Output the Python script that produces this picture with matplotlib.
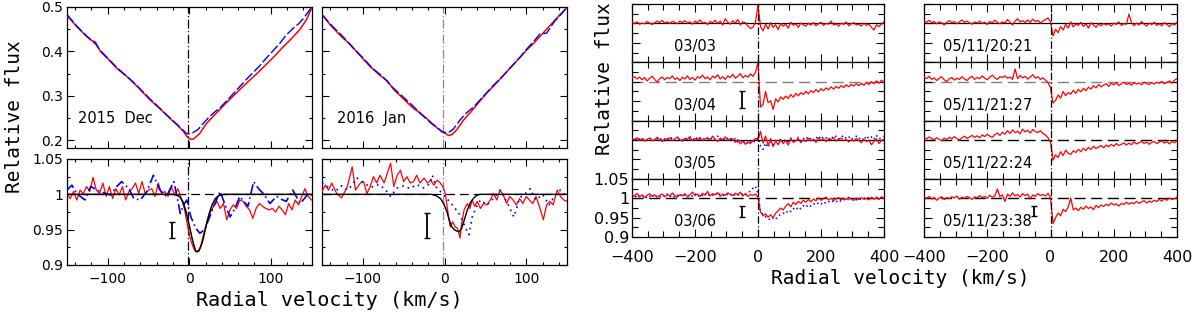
import numpy as np
import matplotlib.pyplot as plt
from matplotlib.ticker import MultipleLocator, FuncFormatter

# ---------------- data ----------------
# Left block, top panels (broad absorption)
dec_top_red_v = [-150, -138, -126, -121, -115, -109, -99, -89, -78, -68, -58, -48, -38, -28, -15, -7, -3, 1, 5, 9, 13, 21, 34, 44, 54, 64, 74, 84, 95, 105, 115, 126, 136, 144, 150]
dec_top_red_f = [0.481, 0.456, 0.434, 0.426, 0.421, 0.400, 0.382, 0.362, 0.346, 0.329, 0.310, 0.291, 0.275, 0.257, 0.235, 0.220, 0.209, 0.203, 0.203, 0.209, 0.216, 0.238, 0.263, 0.282, 0.300, 0.318, 0.335, 0.352, 0.372, 0.390, 0.410, 0.430, 0.450, 0.472, 0.497]
dec_top_blue_v = [-150, -138, -126, -115, -109, -89, -68, -48, -28, -15, -7, -3, 1, 6, 11, 17, 24, 30, 38, 46, 54, 62, 70, 78, 86, 95, 103, 111, 119, 128, 134, 140, 150]
dec_top_blue_f = [0.483, 0.457, 0.435, 0.417, 0.402, 0.364, 0.330, 0.293, 0.258, 0.236, 0.222, 0.215, 0.215, 0.219, 0.225, 0.238, 0.252, 0.262, 0.274, 0.289, 0.305, 0.321, 0.337, 0.352, 0.367, 0.386, 0.402, 0.418, 0.437, 0.453, 0.462, 0.474, 0.499]
jan_top_red_v = [-150, -140, -126, -115, -103, -91, -79, -70, -62, -54, -46, -38, -30, -21, -9, -1, 5, 9, 15, 23, 36, 44, 52, 60, 68, 77, 85, 93, 101, 109, 117, 126, 134, 142, 150]
jan_top_red_f = [0.483, 0.460, 0.433, 0.415, 0.390, 0.366, 0.346, 0.334, 0.314, 0.300, 0.286, 0.272, 0.262, 0.248, 0.228, 0.218, 0.211, 0.213, 0.224, 0.245, 0.272, 0.290, 0.307, 0.322, 0.338, 0.356, 0.372, 0.388, 0.404, 0.418, 0.434, 0.452, 0.468, 0.484, 0.498]
jan_top_blue_v = [-150, -138, -128, -120, -112, -100, -88, -76, -64, -52, -40, -28, -16, -9, -3, 1, 6, 11, 19, 27, 36, 44, 52, 60, 68, 77, 85, 93, 101, 109, 117, 125, 134, 142, 150]
jan_top_blue_f = [0.483, 0.458, 0.440, 0.425, 0.408, 0.386, 0.362, 0.344, 0.320, 0.300, 0.280, 0.258, 0.238, 0.229, 0.219, 0.218, 0.219, 0.226, 0.246, 0.262, 0.276, 0.292, 0.308, 0.324, 0.338, 0.356, 0.372, 0.388, 0.406, 0.422, 0.440, 0.441, 0.466, 0.482, 0.500]

# Left block, bottom panels (normalised)
dec_bot_red_f = [1.001, 0.994, 1.004, 0.992, 1.006, 1.001, 1.011, 1.004, 1.024, 1.006,
                 1.001, 1.016, 0.997, 1.011, 0.994, 1.008, 0.999, 1.011, 0.992, 1.004,
                 1.008, 1.016, 1.001, 1.018, 1.001, 1.006, 1.008, 0.997, 1.016, 1.001,
                 1.004, 0.997, 1.011, 0.999, 1.008, 0.995, 0.980, 0.955,
                 0.934, 0.922, 0.918, 0.926, 0.945, 0.962, 0.975, 0.983, 0.990, 0.980,
                 0.987, 0.964, 0.978, 0.985, 0.980, 0.992, 0.990, 0.983, 0.978, 0.966,
                 0.980, 0.987, 0.983, 0.980, 0.978, 0.980, 0.975, 0.983, 0.978, 0.971,
                 0.987, 0.978, 0.992, 0.985, 0.997, 1.008, 0.997, 0.992]
dec_bot_blue_v = [-150, -144, -138, -128, -121, -109, -97, -89, -83, -74, -68, -60, -52, -44, -36, -28, -19, -15, -11, -7, -3, 2, 8, 13, 19, 25, 30, 38, 44, 50, 56, 62, 67, 72, 79, 85, 91, 99, 107, 113, 119, 127, 136, 142, 146, 150]
dec_bot_blue_f = [1.006, 1.013, 1.001, 0.992, 1.011, 1.004, 0.999, 1.011, 1.018, 1.008, 0.994, 0.992, 1.004, 1.027, 1.006, 0.997, 1.018, 0.997, 0.973, 0.985, 0.992, 0.968, 0.952, 0.945, 0.950, 0.968, 0.983, 1.004, 0.985, 0.968, 0.980, 0.997, 0.990, 0.983, 1.018, 1.008, 1.001, 0.987, 0.997, 0.993, 0.990, 1.006, 0.987, 0.995, 1.001, 0.998]
dec_model_v = [-150, -20, -16, -12, -8, -4, 0, 4, 8, 12, 16, 20, 24, 28, 32, 36, 40, 44, 150]
dec_model_f = [1.0, 1.0, 0.999, 0.997, 0.990, 0.976, 0.956, 0.935, 0.919, 0.920, 0.932, 0.952, 0.971, 0.985, 0.994, 0.998, 0.9995, 1.0, 1.0]

jan_bot_red_v = [-150, -146, -142, -138, -132, -126, -119, -113, -109, -103, -99, -95, -91, -87, -83, -79, -74, -70, -66, -62, -58, -54, -50, -46, -42, -38, -34, -30, -25, -21, -17, -13, -9, -5, -2, 1, 5, 7, 10, 13, 16, 19, 21, 24, 28, 31, 34, 37, 40, 44, 48, 52, 56, 60, 64, 68, 72, 76, 80, 84, 88, 92, 96, 100, 104, 108, 112, 117, 121, 125, 129, 133, 138, 142, 146, 150]
jan_bot_red_f = [1.004, 1.013, 1.006, 1.016, 1.001, 0.995, 1.011, 1.039, 1.006, 1.016, 1.018, 1.001, 1.011, 1.025, 1.016, 1.027, 1.016, 1.030, 1.044, 1.011, 1.027, 1.034, 1.018, 1.025, 1.016, 1.018, 1.027, 1.016, 1.023, 1.016, 1.020, 1.013, 1.020, 1.016, 1.011, 1.001, 0.968, 0.954, 0.961, 0.954, 0.952, 0.938, 0.959, 0.978, 0.987, 0.980, 0.992, 0.983, 0.990, 0.980, 0.987, 0.985, 0.992, 1.001, 0.992, 1.006, 0.999, 0.987, 0.997, 0.992, 0.985, 0.994, 0.987, 0.997, 0.992, 0.987, 0.997, 0.980, 0.964, 0.985, 0.990, 0.985, 1.006, 0.997, 0.992, 0.990]
jan_bot_blue_v = [-150, -142, -134, -126, -118, -107, -99, -90, -80, -72, -66, -58, -50, -42, -34, -26, -18, -15, -10, -5, 3, 11, 19, 26, 30, 34, 38, 44, 52, 60, 68, 76, 85, 92, 98, 105, 112, 120, 128, 135, 142, 150]
jan_bot_blue_f = [1.016, 1.010, 1.004, 1.012, 1.006, 1.023, 1.016, 1.010, 1.014, 1.006, 0.997, 1.009, 1.012, 1.008, 1.014, 1.009, 1.015, 1.027, 1.010, 1.004, 0.994, 0.983, 0.971, 0.952, 0.943, 0.968, 0.980, 0.992, 0.985, 0.994, 1.006, 0.990, 0.968, 0.995, 1.000, 1.008, 0.992, 1.000, 0.985, 0.998, 1.006, 0.996]
jan_model_v = [-150, -16, -10, -5, -1, 3, 6, 9, 12, 15, 18, 21, 24, 28, 32, 36, 40, 44, 150]
jan_model_f = [1.0, 1.0, 0.998, 0.994, 0.987, 0.975, 0.963, 0.954, 0.950, 0.948, 0.947, 0.952, 0.963, 0.978, 0.989, 0.995, 0.999, 1.0, 1.0]

left_vsys = -2.0
left_err_v = [-21, -21]
left_err_lo = [0.938, 0.938]
left_err_hi = [0.961, 0.973]

# Right block (velocity grid -400 .. 400, 101 samples each)
f_0303 = [1.003, 1.000, 1.004, 0.998, 1.001, 0.999, 1.005, 1.001, 0.997, 1.002,
          1.006, 1.002, 1.008, 1.001, 1.004, 1.000, 1.005, 1.003, 0.999, 1.006,
          1.002, 1.007, 1.001, 1.004, 0.998, 1.006, 1.002, 1.009, 1.001, 1.003,
          0.997, 1.005, 1.002, 1.008, 1.000, 1.006, 0.996, 1.012, 1.003, 0.998,
          1.007, 1.001, 1.010, 0.996, 1.004, 1.002, 0.993, 0.987, 0.990, 1.003,
          1.047,
          0.992, 0.981, 0.998, 0.986, 1.002, 0.990, 0.997, 0.984, 1.000, 0.993,
          0.998, 0.988, 1.003, 0.995, 0.999, 0.990, 1.001, 0.996, 0.993, 1.000,
          0.996, 1.002, 0.994, 0.999, 1.003, 0.995, 1.000, 0.998, 1.006, 0.996,
          0.999, 0.993, 1.001, 0.997, 1.004, 0.994, 0.999, 1.002, 0.996, 0.998,
          0.993, 1.001, 0.995, 0.998, 0.990, 0.983, 0.996, 0.992, 0.998, 1.004]
f_0304 = [1.010, 1.013, 1.007, 1.012, 1.005, 1.011, 1.002, 1.009, 1.014, 1.006,
          0.999, 1.008, 1.012, 1.005, 1.011, 1.008, 1.015, 1.006, 1.010, 1.003,
          1.012, 1.007, 1.015, 1.006, 1.011, 1.004, 1.013, 1.009, 1.017, 1.008,
          1.012, 1.005, 1.014, 1.010, 1.018, 1.007, 1.013, 1.006, 1.015, 1.011,
          1.019, 1.009, 1.014, 1.021, 1.010, 1.016, 1.012, 1.020, 1.014, 1.024,
          1.050,
          0.935, 0.941, 0.975, 0.946, 0.951, 0.929, 0.956, 0.948, 0.961, 0.955,
          0.963, 0.957, 0.967, 0.960, 0.970, 0.964, 0.972, 0.967, 0.975, 0.969,
          0.977, 0.972, 0.980, 0.974, 0.982, 0.977, 0.984, 0.979, 0.987, 0.981,
          0.988, 0.983, 0.990, 0.985, 0.992, 0.987, 0.993, 0.989, 0.995, 0.990,
          0.996, 0.991, 0.998, 0.993, 1.000, 0.995, 1.002, 0.996, 1.004, 0.999]
f_0305_red = [1.004, 1.001, 1.006, 0.999, 1.003, 0.997, 1.002, 1.005, 0.998, 1.001,
              1.007, 1.002, 0.996, 1.004, 1.000, 1.006, 0.998, 1.003, 1.008, 1.001,
              0.997, 1.005, 1.002, 1.009, 0.999, 1.004, 1.001, 1.007, 0.998, 1.003,
              1.006, 1.000, 1.010, 1.002, 0.996, 1.005, 1.001, 1.008, 0.999, 1.004,
              1.003, 0.994, 1.001, 0.990, 0.997, 0.989, 0.995, 0.991, 0.998, 1.004,
              1.000,
              1.022, 0.992, 1.010, 0.986, 1.004, 0.983, 0.998, 0.988, 1.001, 0.991,
              0.999, 0.987, 1.003, 0.994, 0.998, 1.004, 0.993, 1.001, 0.996, 1.005,
              0.998, 1.002, 0.994, 1.006, 0.999, 1.003, 0.996, 1.004, 1.000, 1.007,
              0.997, 1.003, 1.005, 0.998, 1.002, 0.995, 1.001, 0.997, 1.004, 0.999,
              0.993, 1.002, 0.996, 1.000, 0.988, 0.996, 1.003, 0.991, 0.999, 1.002]
f_0305_blue = [1.002, 1.006, 0.998, 1.003, 1.000, 1.005, 0.999, 1.002, 1.006, 0.997,
               1.003, 1.000, 1.005, 0.998, 1.004, 1.001, 1.007, 0.999, 1.002, 1.005,
               1.001, 0.998, 1.006, 1.002, 1.004, 0.999, 1.008, 1.002, 1.005, 1.000,
               1.003, 1.007, 0.999, 1.004, 1.010, 1.001, 1.005, 0.998, 1.006, 1.002,
               0.999, 1.004, 0.995, 1.000, 0.992, 0.998, 0.990, 0.996, 0.993, 0.999,
               1.006,
               0.985, 0.976, 0.992, 0.981, 0.995, 0.986, 0.999, 0.990, 1.004, 0.993,
               1.002, 0.996, 1.005, 0.998, 1.001, 1.007, 0.997, 1.003, 1.009, 1.001,
               1.004, 0.999, 1.008, 1.002, 1.011, 1.003, 1.006, 1.000, 1.009, 1.004,
               1.010, 1.002, 1.007, 1.012, 1.004, 1.008, 1.001, 1.006, 1.010, 1.003,
               1.007, 0.999, 1.011, 1.004, 1.008, 1.001, 1.012, 1.003, 1.006, 1.009]
f_0306_red = [1.010, 1.006, 1.013, 1.004, 1.009, 1.002, 1.008, 1.012, 1.005, 1.009,
              1.003, 1.008, 1.011, 1.004, 1.009, 1.006, 1.014, 1.007, 1.003, 1.010,
              1.006, 1.012, 1.004, 1.010, 1.016, 1.007, 1.011, 1.005, 1.013, 1.008,
              1.018, 1.006, 1.012, 1.009, 1.015, 1.005, 1.011, 1.008, 1.014, 1.010,
              1.007, 1.013, 1.009, 1.016, 1.006, 1.012, 1.005, 1.010, 1.008, 1.011,
              1.002,
              0.965, 0.955, 0.960, 0.951, 0.958, 0.950, 0.962, 0.968, 0.975, 0.970,
              0.980, 0.986, 0.978, 0.990, 0.984, 0.992, 0.987, 0.995, 0.990, 0.997,
              0.991, 0.998, 0.994, 1.001, 0.995, 0.999, 1.003, 0.996, 1.000, 0.994,
              0.999, 1.002, 0.996, 1.001, 0.997, 1.003, 0.998, 0.995, 1.001, 0.997,
              1.002, 0.997, 1.000, 0.996, 1.003, 0.998, 1.001, 0.997, 1.004, 1.000]
f_0306_blue = [1.004, 1.009, 1.001, 1.006, 1.003, 1.008, 1.000, 1.005, 1.010, 1.002,
               1.007, 1.003, 1.009, 1.005, 1.011, 1.004, 1.008, 1.002, 1.007, 1.012,
               1.005, 1.009, 1.003, 1.008, 1.006, 1.012, 1.004, 1.010, 1.007, 1.013,
               1.006, 1.011, 1.008, 1.014, 1.007, 1.012, 1.009, 1.005, 1.011, 1.008,
               1.013, 1.007, 1.010, 1.006, 1.012, 1.009, 1.015, 1.018, 1.026, 1.031,
               1.012,
               0.965, 0.958, 0.952, 0.948, 0.944, 0.950, 0.946, 0.955, 0.958, 0.962,
               0.960, 0.969, 0.966, 0.974, 0.970, 0.978, 0.973, 0.981, 0.977, 0.984,
               0.980, 0.986, 0.983, 0.989, 0.985, 0.991, 0.987, 0.992, 0.989, 0.994,
               0.991, 0.996, 0.992, 0.997, 0.994, 0.998, 0.995, 0.999, 0.996, 1.000,
               0.997, 1.001, 0.998, 1.002, 0.999, 1.001, 1.003, 1.000, 1.002, 1.003]
f_2021 = [1.006, 1.003, 1.008, 1.002, 1.005, 0.999, 1.004, 1.001, 0.996, 1.003,
          1.007, 1.002, 1.005, 0.999, 1.004, 1.009, 1.003, 1.006, 1.001, 0.998,
          1.004, 1.001, 1.006, 1.000, 1.003, 0.997, 1.005, 1.002, 1.008, 1.003,
          0.999, 1.004, 1.001, 1.010, 1.003, 0.996, 1.006, 1.012, 1.004, 1.007,
          1.002, 1.009, 1.003, 1.011, 1.005, 1.008, 1.001, 1.006, 1.010, 1.014,
          1.004,
          0.968, 0.985, 0.976, 0.992, 0.983, 0.998, 0.988, 1.004, 0.991, 0.999,
          0.995, 1.003, 0.992, 0.999, 0.988, 1.002, 0.996, 0.990, 0.999, 0.994,
          1.000, 0.996, 0.999, 0.993, 1.001, 0.997, 1.004, 0.995, 0.999, 0.998,
          1.024, 1.002, 0.994, 1.001, 0.996, 1.005, 0.998, 0.993, 1.001, 0.997,
          1.003, 0.995, 0.999, 0.994, 1.002, 0.997, 0.992, 1.000, 0.996, 1.003]
f_2127 = [1.012, 1.008, 1.014, 1.006, 1.010, 1.003, 1.009, 1.013, 1.005, 1.000,
          1.008, 1.011, 1.004, 1.009, 1.006, 1.013, 1.007, 1.003, 1.010, 1.014,
          1.006, 1.011, 1.008, 1.015, 1.009, 1.005, 1.012, 1.017, 1.010, 1.006,
          1.013, 1.011, 1.015, 1.009, 1.012, 1.006, 1.033, 1.008, 1.016, 1.010,
          1.014, 1.007, 1.012, 1.018, 1.009, 1.013, 1.006, 1.010, 1.004, 0.998,
          0.985,
          0.945, 0.952, 0.966, 0.958, 0.975, 0.964, 0.972, 0.968, 0.978, 0.970,
          0.980, 0.974, 0.983, 0.977, 0.986, 0.981, 0.990, 0.984, 0.993, 0.987,
          0.991, 0.995, 0.988, 0.996, 0.992, 0.998, 0.990, 0.995, 0.999, 0.993,
          0.996, 0.991, 0.998, 0.994, 0.997, 0.992, 0.999, 0.995, 0.993, 0.998,
          0.994, 0.999, 0.996, 1.001, 0.995, 0.998, 1.002, 0.996, 1.004, 1.008]
f_2224 = [1.006, 1.003, 1.008, 1.004, 1.001, 1.006, 1.002, 0.998, 1.005, 1.001,
          1.007, 1.003, 1.009, 1.004, 1.000, 1.006, 1.010, 1.004, 1.008, 1.012,
          1.007, 1.011, 1.006, 1.013, 1.009, 1.015, 1.010, 1.007, 1.014, 1.018,
          1.012, 1.020, 1.015, 1.024, 1.017, 1.026, 1.019, 1.023, 1.016, 1.028,
          1.021, 1.025, 1.018, 1.027, 1.022, 1.019, 1.024, 1.017, 1.013, 1.006,
          0.995,
          0.948, 0.962, 0.955, 0.970, 0.960, 0.974, 0.966, 0.963, 0.972, 0.968,
          0.976, 0.970, 0.979, 0.973, 0.981, 0.976, 0.984, 0.978, 0.982, 0.986,
          0.980, 0.987, 0.983, 0.989, 0.984, 0.991, 0.986, 0.989, 0.993, 0.987,
          0.992, 0.988, 0.995, 0.990, 0.993, 0.997, 0.991, 0.995, 0.989, 0.994,
          0.996, 0.991, 0.995, 0.998, 0.992, 0.996, 0.990, 0.997, 0.993, 0.998]
f_2338 = [1.003, 1.000, 1.005, 0.998, 1.002, 0.995, 1.001, 1.004, 0.997, 1.002,
          0.999, 1.004, 1.001, 1.006, 0.998, 1.003, 1.000, 1.005, 1.002, 0.997,
          1.004, 1.001, 1.007, 1.002, 1.005, 1.000, 1.008, 1.003, 1.006, 1.024,
          1.004, 1.009, 0.992, 1.011, 1.005, 1.014, 1.006, 1.010, 1.003, 1.012,
          1.007, 1.011, 0.998, 1.009, 1.005, 1.012, 1.007, 1.010, 1.006, 1.013,
          1.002,
          0.935, 0.950, 0.962, 0.955, 0.972, 0.966, 0.978, 1.001, 0.970, 0.975,
          0.968, 0.977, 0.972, 0.980, 0.974, 0.978, 0.971, 0.982, 0.976, 0.983,
          0.979, 0.985, 0.981, 0.988, 0.983, 0.986, 0.980, 0.987, 0.984, 0.990,
          0.985, 0.989, 0.986, 0.992, 0.987, 0.991, 0.994, 0.988, 0.993, 0.990,
          0.995, 0.992, 0.997, 0.993, 0.999, 0.995, 1.001, 0.997, 0.999, 1.003]

right_labels = [["03/03", "03/04", "03/05", "03/06"],
                ["05/11/20:21", "05/11/21:27", "05/11/22:24", "05/11/23:38"]]
right_red = [[f_0303, f_0304, f_0305_red, f_0306_red],
             [f_2021, f_2127, f_2224, f_2338]]
right_blue = [[None, None, f_0305_blue, f_0306_blue],
              [None, None, None, None]]
# style of the continuum line: 's' solid black, 'g' grey dashed, 'k' black dashed
right_cont = [['s', 'g', 's', 'k'], ['s', 'g', 'k', 'k']]
# error bars: (column, row, v, low, high)
right_err = [(0, 1, -50, 0.932, 0.976), (0, 3, -50, 0.952, 0.981), (1, 3, -51, 0.954, 0.980)]

# ---------------- figure ----------------
W, H = 1200, 315
fig = plt.figure(figsize=(12, 3.15), dpi=100)
RED = '#ff0000'
BLUE = '#0000ee'


def add_px(x0, y0, x1, y1):
    return fig.add_axes([x0 / W, 1 - y1 / H, (x1 - x0) / W, (y1 - y0) / H])


def fmt(v, pos):
    s = f"{v:g}"
    return s.replace('-', '\u2212')


def style(ax, lsize):
    ax.tick_params(which='both', direction='in', top=True, right=True,
                   width=0.8, labelsize=lsize, pad=3)
    ax.tick_params(which='major', length=5)
    ax.tick_params(which='minor', length=2.5)
    for s in ax.spines.values():
        s.set_linewidth(0.9)


# Left block
lx = [(67, 311.5), (322, 567)]
for j, (x0, x1) in enumerate(lx):
    axt = add_px(x0, 7, x1, 148)
    axb = add_px(x0, 159, x1, 265)
    vcol = 'k' if j == 0 else '#888888'
    for ax in (axt, axb):
        ax.set_xlim(-150, 150)
        ax.xaxis.set_major_locator(MultipleLocator(100))
        ax.xaxis.set_minor_locator(MultipleLocator(20))
        ax.xaxis.set_major_formatter(FuncFormatter(fmt))
        ax.yaxis.set_major_formatter(FuncFormatter(fmt))
        style(ax, 10)
        ax.axvline(left_vsys, color=vcol, lw=0.9, ls=(0, (7, 2, 1, 2)), zorder=1)
    axb.tick_params(axis='x', pad=5)
    axt.set_ylim(0.183, 0.5)
    axt.yaxis.set_major_locator(MultipleLocator(0.1))
    axt.yaxis.set_minor_locator(MultipleLocator(0.05))
    axt.tick_params(labelbottom=False)
    axb.set_ylim(0.9, 1.05)
    axb.yaxis.set_major_locator(MultipleLocator(0.05))
    axb.yaxis.set_minor_locator(MultipleLocator(0.025))
    axb.axhline(1.0, color='k', lw=0.9, ls=(0, (7, 4)), zorder=1)
    if j == 0:
        axt.plot(dec_top_red_v, dec_top_red_f, color=RED, lw=1.1, zorder=3)
        axt.plot(dec_top_blue_v, dec_top_blue_f, color=BLUE, lw=1.0, ls=(0, (7, 2)), zorder=4)
        axt.text(-91, 0.249, "2015  Dec", ha='center', va='center', fontsize=10.5)
        axb.plot(np.linspace(-150, 150, len(dec_bot_red_f)), dec_bot_red_f, color=RED, lw=0.9, zorder=3)
        axb.plot(dec_bot_blue_v, dec_bot_blue_f, color=BLUE, lw=1.2, ls=(0, (6, 2, 1, 2)), zorder=4)
        axb.plot(dec_model_v, dec_model_f, color='k', lw=1.1, zorder=5)
    else:
        axt.plot(jan_top_red_v, jan_top_red_f, color=RED, lw=1.1, zorder=3)
        axt.plot(jan_top_blue_v, jan_top_blue_f, color=BLUE, lw=1.0, ls=(0, (7, 2)), zorder=4)
        axt.text(-89, 0.249, "2016  Jan", ha='center', va='center', fontsize=10.5)
        axb.plot(jan_bot_red_v, jan_bot_red_f, color=RED, lw=0.9, zorder=3)
        axb.plot(jan_bot_blue_v, jan_bot_blue_f, color=BLUE, lw=1.2, ls=(0, (1, 2.5)), zorder=4)
        axb.plot(jan_model_v, jan_model_f, color='k', lw=1.0, zorder=5)
        axt.tick_params(labelleft=False)
        axb.tick_params(labelleft=False)
    lo, hi = left_err_lo[j], left_err_hi[j]
    axb.errorbar([left_err_v[j]], [(lo + hi) / 2], yerr=[(hi - lo) / 2], color='k',
                 lw=1.3, capsize=2.5, capthick=1.0, zorder=6)

fig.text(15 / W, 1 - 117 / H, "Relative flux", rotation=90, ha='center', va='center',
         fontsize=14, family='DejaVu Sans Mono')
fig.text(329 / W, 1 - 301 / H, "Radial velocity (km/s)", ha='center', va='center',
         fontsize=14.5, family='DejaVu Sans Mono')

# Right block
rx = [(632, 884), (924, 1177)]
row_top, row_h = 4.0, 58.3
cont_style = {'s': dict(color='k', ls='-', lw=0.9),
              'g': dict(color='#808080', ls=(0, (8, 4)), lw=1.0),
              'k': dict(color='k', ls=(0, (8, 4)), lw=1.0)}
axes_r = {}
for c, (x0, x1) in enumerate(rx):
    for r in range(4):
        y0 = row_top + r * row_h
        ax = add_px(x0, y0, x1, y0 + row_h)
        axes_r[(c, r)] = ax
        ax.set_xlim(-400, 400)
        ax.set_ylim(0.9, 1.05)
        ax.xaxis.set_major_locator(MultipleLocator(200))
        ax.xaxis.set_minor_locator(MultipleLocator(50))
        ax.yaxis.set_major_locator(MultipleLocator(0.05))
        ax.yaxis.set_minor_locator(MultipleLocator(0.025))
        ax.xaxis.set_major_formatter(FuncFormatter(fmt))
        ax.yaxis.set_major_formatter(FuncFormatter(fmt))
        style(ax, 11.5)
        ax.tick_params(which='major', length=6)
        ax.tick_params(which='minor', length=4)
        ax.tick_params(axis='x', pad=9)
        ax.tick_params(axis='y', pad=2)
        if r < 3:
            ax.tick_params(labelbottom=False)
        if not (c == 0 and r == 3):
            ax.tick_params(labelleft=False)
        ax.axhline(1.0, zorder=1, **cont_style[right_cont[c][r]])
        ax.axvline(0, color='k', lw=0.9, ls=(0, (6, 2, 1, 2)), zorder=5)
        red = right_red[c][r]
        ax.plot(np.linspace(-400, 400, len(red)), red, color=RED, lw=0.9, zorder=3)
        blue = right_blue[c][r]
        if blue is not None:
            ax.plot(np.linspace(-400, 400, len(blue)), blue, color=BLUE, lw=1.1,
                    ls=(0, (1, 2)), zorder=2)
        ax.text(-200, 0.94, right_labels[c][r], ha='center', va='center', fontsize=10.5)

for (c, r, v, lo, hi) in right_err:
    axes_r[(c, r)].errorbar([v], [(lo + hi) / 2], yerr=[(hi - lo) / 2], color='k',
                            lw=1.3, capsize=2, capthick=1.0, zorder=6)

fig.text(605 / W, 1 - 79 / H, "Relative flux", rotation=90, ha='center', va='center',
         fontsize=14, family='DejaVu Sans Mono')
fig.text(900 / W, 1 - 279 / H, "Radial velocity (km/s)", ha='center', va='center',
         fontsize=14, family='DejaVu Sans Mono')

fig.savefig("out.png", dpi=100)
